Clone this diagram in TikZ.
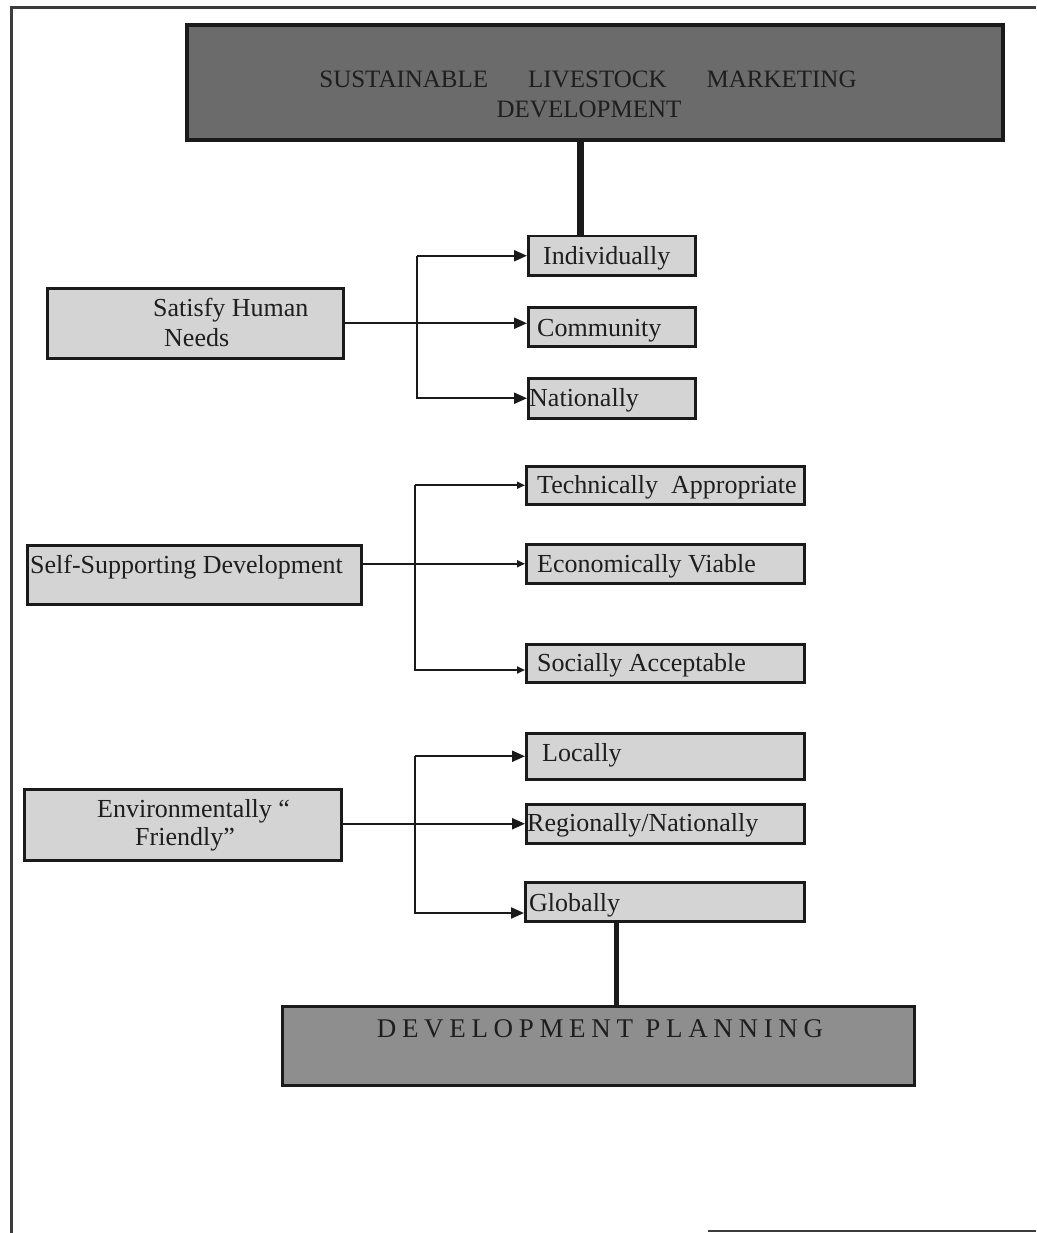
\documentclass[tikz,border=0pt]{standalone}
\usepackage{fontspec}
\setmainfont{Liberation Serif}
\newfontfamily\spacedfont[LetterSpace=21]{Liberation Serif}
\usetikzlibrary{arrows.meta}
\definecolor{boxgray}{HTML}{D4D4D4}
\definecolor{topgray}{HTML}{6B6B6B}
\definecolor{devgray}{HTML}{8E8E8E}
\definecolor{txtcol}{HTML}{1E1E1E}
\definecolor{linecol}{HTML}{1A1A1A}
\begin{document}
\begin{tikzpicture}[x=1pt,y=-1pt,
  box/.style={draw=linecol, fill=boxgray, line width=2.5pt, inner sep=0pt, anchor=north west},
  lbl/.style={inner sep=0pt, anchor=base west, font=\fontsize{26}{30}\selectfont, text=txtcol},
  conn/.style={line width=2.2pt, draw=linecol},
  arr/.style={conn, -{Triangle[length=13pt,width=11pt]}},
  arrs/.style={conn, -{Triangle[length=8pt,width=7pt]}},
  thick line/.style={draw=linecol},
]
\useasboundingbox (0,0) rectangle (1036,1233);
% frame
\draw[line width=3pt, draw=linecol!85] (1036,8) -- (11,8) -- (11,1233);
\draw[line width=2pt, draw=linecol!85] (708,1231) -- (1036,1231);

% boxes
\node[box, fill=topgray, line width=4pt, minimum width=816pt, minimum height=115pt] (top) at (185,23) {};
\node[box, minimum width=167pt, minimum height=39pt] (ind) at (527,235) {};
\node[box, minimum width=167pt, minimum height=39pt] (com) at (527,306) {};
\node[box, minimum width=167pt, minimum height=40pt] (nat) at (527,377) {};
\node[box, minimum width=296pt, minimum height=70pt] (sat) at (46,287) {};
\node[box, minimum width=278pt, minimum height=38pt] (tech) at (525,465) {};
\node[box, minimum width=278pt, minimum height=39pt] (econ) at (525,543) {};
\node[box, minimum width=278pt, minimum height=38pt] (soc) at (525,643) {};
\node[box, minimum width=334pt, minimum height=59pt] (self) at (26,544) {};
\node[box, minimum width=278pt, minimum height=46pt] (loc) at (525,732) {};
\node[box, minimum width=278pt, minimum height=39pt] (reg) at (525,803) {};
\node[box, minimum width=279pt, minimum height=39pt] (glob) at (524,881) {};
\node[box, minimum width=317pt, minimum height=71pt] (env) at (23,788) {};
\node[box, fill=devgray, line width=3pt, minimum width=632pt, minimum height=79pt] (dev) at (281,1005) {};

% labels
\node[inner sep=0pt, anchor=base, font=\fontsize{25}{30}\selectfont, text=txtcol] (topA) at (588,88) {SUSTAINABLE\hspace{40pt}LIVESTOCK\hspace{40pt}MARKETING};
\node[inner sep=0pt, anchor=base, font=\fontsize{25}{30}\selectfont, text=txtcol] (topB) at (589,118) {DEVELOPMENT};
\node[lbl] (indT) at (543,265) {Individually};
\node[lbl] (comT) at (537,336) {Community};
\node[lbl] (natT) at (529,406) {Nationally};
\node[lbl] (satA) at (153,316) {Satisfy Human};
\node[lbl] (satB) at (164,346) {Needs};
\node[lbl] (techT) at (537,493) {Technically\ \ Appropriate};
\node[lbl] (econT) at (537,572) {Economically Viable};
\node[lbl] (socT) at (537,671) {Socially Acceptable};
\node[lbl] (selfT) at (30,573) {Self-Supporting Development};
\node[lbl] (locT) at (542,761) {Locally};
\node[lbl] (regT) at (527,831) {Regionally/Nationally};
\node[lbl] (envA) at (97,817) {Environmentally “};
\node[lbl] (envB) at (135,845) {Friendly”};
\node[lbl] (globT) at (529,911) {Globally};
\node[inner sep=0pt, anchor=base, font=\spacedfont\fontsize{27}{30}\selectfont, text=txtcol] (devT) at (600,1037) {DEVELOPMENT PLANNING};

% thick verticals
\coordinate (v1) at (580,0);
\draw[thick line, line width=7pt] (top.south -| v1) -- (ind.north -| v1);
\coordinate (v2) at (616,0);
\draw[thick line, line width=5pt] (glob.south -| v2) -- (dev.north -| v2);

% group 1
\coordinate (t1) at (417,0);
\draw[arr] (sat.east) -- (sat.east -| com.west);
\draw[arr] (t1 |- ind.west) -- (ind.west);
\draw[arr] (t1 |- ind.west) -- (t1 |- nat.west) -- (nat.west);

% group 2
\coordinate (t2) at (415,0);
\coordinate (s2) at (415,670);
\draw[arrs] (self.east |- econ.west) -- (econ.west);
\draw[arrs] (t2 |- tech.west) -- (tech.west);
\draw[arrs] (t2 |- tech.west) -- (s2) -- (s2 -| soc.west);

% group 3
\coordinate (t3) at (415,0);
\coordinate (g3) at (415,913);
\draw[arr] (env.east |- reg.west) -- (reg.west);
\draw[arr] (t3 |- loc.west) -- (loc.west);
\draw[arr] (t3 |- loc.west) -- (g3) -- (g3 -| glob.west);
\end{tikzpicture}
\end{document}
